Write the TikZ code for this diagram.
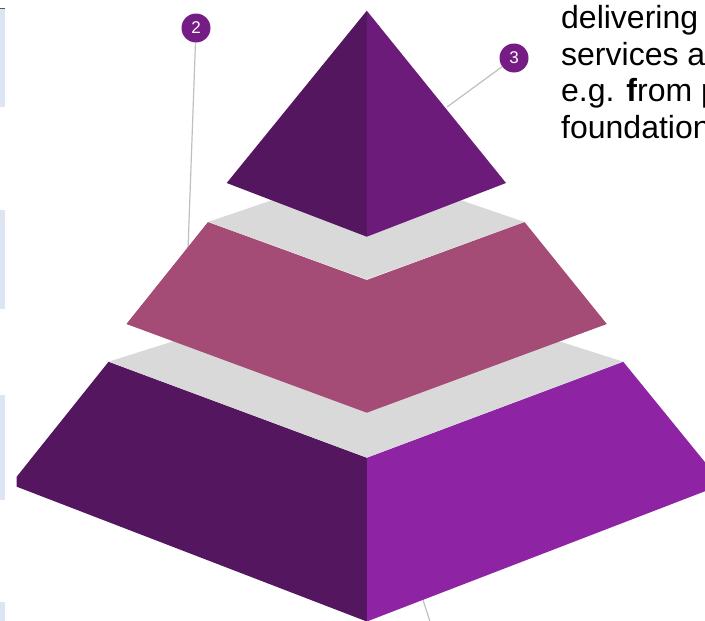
\documentclass[tikz,border=0pt]{standalone}
\usepackage{fontspec}
\setmainfont{Liberation Sans}
\usepackage{xcolor}
\usepackage{tikz}

\definecolor{plumdark}{HTML}{54165F}
\definecolor{plummid}{HTML}{6D1B7B}
\definecolor{plumlight}{HTML}{8E24A3}
\definecolor{rose}{HTML}{A44C75}
\definecolor{shelf}{HTML}{D9D9D9}
\definecolor{marker}{HTML}{761C85}
\definecolor{leader}{HTML}{BFBFBF}
\definecolor{sidebox}{HTML}{DCE5F1}

\begin{document}
\begin{tikzpicture}[x=1pt,y=-1pt]
  \useasboundingbox (0,0) rectangle (705,621);
  \clip (0,0) rectangle (705,621);

  % boxes cut off at the left border
  \foreach \ya\yb in {8/107, 210/309, 395/500, 602/640}{%
    \fill[color=sidebox] (-10,\ya) rectangle (5,\yb);
  }
  \draw[color=gray!70!black] (-10,8) -- (5,8);

  % numbered markers and their leaders
  \node[circle, fill=marker, text=white, minimum size=29pt, inner sep=0pt, font=\fontsize{17}{17}\selectfont] (m2) at (196,28) {2};
  \node[circle, fill=marker, text=white, minimum size=29pt, inner sep=0pt, font=\fontsize{17}{17}\selectfont] (m3) at (514,58) {3};
  \coordinate (e2) at (188,250);
  \coordinate (e3) at (447,107);
  \coordinate (b1) at (410,560);
  \coordinate (b2) at (436,640);
  \draw[color=leader, line width=1.2pt] (m2) -- (e2);
  \draw[color=leader, line width=1.2pt] (m3) -- (e3);
  \draw[color=leader, line width=1.2pt] (b1) -- (b2);

  % base block
  \fill[color=plumdark] (108.6,361.7) -- (366.8,457.7) -- (366.8,621.5) -- (16.7,486.7) -- (16.7,476.7) -- cycle;
  \fill[color=plumlight] (623.2,361.7) -- (366.8,457.7) -- (366.8,621.5) -- (716.8,486.7) -- (716.8,476.7) -- cycle;
  \fill[color=shelf] (108.6,361.7) -- (366.8,280) -- (623.2,361.7) -- (366.8,457.7) -- cycle;

  % middle band
  \fill[color=rose] (208,222) -- (366.8,280) -- (524.5,222) -- (606.8,324) -- (366.8,412.7) -- (126.4,324) -- cycle;
  \fill[color=shelf] (208,222) -- (366.8,168) -- (524.5,222) -- (366.8,279.3) -- cycle;

  % top
  \fill[color=plumdark] (366.8,10.7) -- (226.7,183) -- (366.8,236.7) -- cycle;
  \fill[color=plummid] (366.8,10.7) -- (506,183) -- (366.8,236.7) -- cycle;

  \node[anchor=north west, inner sep=0pt, align=left, font=\fontsize{32}{36.5}\selectfont] (note) at (561,5.2)
    {delivering\\services a\\e.g. \textbf{f}rom p\\foundation};
\end{tikzpicture}
\end{document}
